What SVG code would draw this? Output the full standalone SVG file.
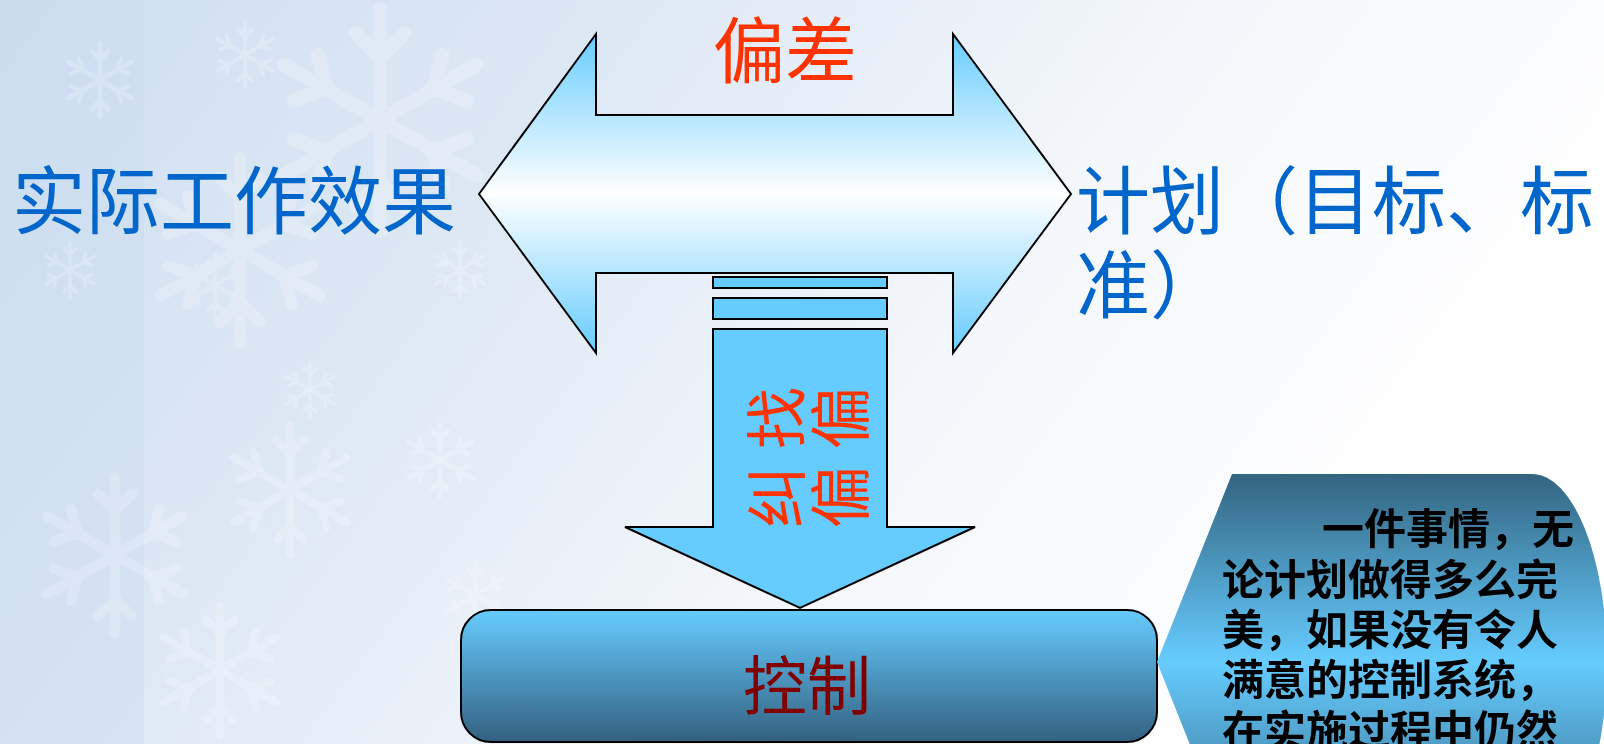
<svg xmlns="http://www.w3.org/2000/svg" xmlns:xlink="http://www.w3.org/1999/xlink" width="1604" height="744" viewBox="0 0 1604 744">
  <style>
    .cjk { font-family: "Noto Sans CJK SC", "Noto Sans", sans-serif; }
    .blue { fill: #0066CC; font-size: 74px; }
    .red { fill: #FF3300; }
    .outline { stroke: #000; stroke-width: 2; stroke-linejoin: miter; }
    .flake { fill: none; stroke: #FFFFFF; stroke-linecap: round; }
  </style>
  <defs>
    <linearGradient id="bg" x1="0" y1="0" x2="1" y2="0.35">
      <stop offset="0" stop-color="#CEDFF1"/>
      <stop offset="0.35" stop-color="#DDE8F5"/>
      <stop offset="0.68" stop-color="#F4F7FB"/>
      <stop offset="1" stop-color="#FFFFFF"/>
    </linearGradient>
    <linearGradient id="dbl" gradientUnits="userSpaceOnUse" x1="0" y1="34" x2="0" y2="353">
      <stop offset="0" stop-color="#66CCFF"/>
      <stop offset="0.5" stop-color="#FFFFFF"/>
      <stop offset="1" stop-color="#66CCFF"/>
    </linearGradient>
    <linearGradient id="box" gradientUnits="userSpaceOnUse" x1="0" y1="610" x2="0" y2="742">
      <stop offset="0" stop-color="#66CCFF"/>
      <stop offset="1" stop-color="#336080"/>
    </linearGradient>
    <linearGradient id="call" gradientUnits="userSpaceOnUse" x1="0" y1="474" x2="0" y2="850">
      <stop offset="0" stop-color="#336480"/>
      <stop offset="0.5" stop-color="#66CCFF"/>
      <stop offset="1" stop-color="#336480"/>
    </linearGradient>
    <symbol id="sf" viewBox="-50 -50 100 100" overflow="visible">
      <g class="flake" stroke-width="6">
        <path d="M0,-46V46M-40,-23L40,23M-40,23L40,-23"/>
        <path d="M-10,-36L0,-26L10,-36M-10,36L0,26L10,36M-36,-8L-22,-13L-26,-27M36,8L22,13L26,27M36,-8L22,-13L26,-27M-36,8L-22,13L-26,27"/>
      </g>
    </symbol>
  </defs>

  <g id="background">
    <rect width="1604" height="744" fill="url(#bg)"/>
    <rect width="144" height="744" fill="#C9DCEF" opacity="0.45"/>
    <g opacity="0.22">
      <use xlink:href="#sf" x="260" y="0" width="240" height="240"/>
      <use xlink:href="#sf" x="140" y="150" width="200" height="200"/>
      <use xlink:href="#sf" x="60" y="40" width="80" height="80"/>
      <use xlink:href="#sf" x="210" y="20" width="70" height="70"/>
      <use xlink:href="#sf" x="220" y="420" width="140" height="140"/>
      <use xlink:href="#sf" x="180" y="250" width="70" height="70"/>
      <use xlink:href="#sf" x="40" y="240" width="60" height="60"/>
      <use xlink:href="#sf" x="30" y="470" width="170" height="170"/>
      <use xlink:href="#sf" x="280" y="360" width="60" height="60"/>
      <use xlink:href="#sf" x="430" y="240" width="60" height="60"/>
      <use xlink:href="#sf" x="400" y="420" width="80" height="80"/>
      <use xlink:href="#sf" x="440" y="560" width="70" height="70"/>
      <use xlink:href="#sf" x="150" y="600" width="140" height="140"/>
    </g>
  </g>

  <g id="connectors">
    <path id="deviation-arrow" class="outline" fill="url(#dbl)" d="M479,194 L596,34 V115 H953 V34 L1071,194 L953,353 V273 H596 V353 Z"/>
    <rect class="outline" fill="#66CCFF" x="713" y="277" width="174" height="11"/>
    <rect class="outline" fill="#66CCFF" x="713" y="298" width="174" height="21"/>
    <path id="down-arrow" class="outline" fill="#66CCFF" d="M713,329 H887 V527 H975 L800,608 L625,527 H713 Z"/>
  </g>

  <g id="label-deviation">
    <text class="cjk red" x="785" y="77" font-size="72" text-anchor="middle">偏差</text>
  </g>

  <g id="label-actual">
    <text class="cjk blue" x="12" y="228">实际工作效果</text>
  </g>

  <g id="label-plan">
    <text class="cjk blue" x="1076" y="228">计划（目标、标</text>
    <text class="cjk blue" x="1076" y="312">准）</text>
  </g>

  <g id="label-find-correct" class="cjk red" font-size="62" text-anchor="middle" dominant-baseline="central">
    <text x="773" y="418" transform="rotate(-90 773 418)">找</text>
    <text x="837" y="418" transform="rotate(-90 837 418)">偏</text>
    <text x="773" y="497" transform="rotate(-90 773 497)">纠</text>
    <text x="837" y="497" transform="rotate(-90 837 497)">偏</text>
  </g>

  <g id="control">
    <rect class="outline" fill="url(#box)" x="461" y="610" width="696" height="132" rx="30" ry="30"/>
    <text class="cjk" x="807" y="709" font-size="64" fill="#800000" text-anchor="middle">控制</text>
  </g>

  <g id="note">
    <path fill="url(#call)" d="M1157,662 L1232,474 H1532 A75,188 0 0 1 1532,850 H1232 Z"/>
    <g class="cjk" font-size="42" font-weight="700" fill="#000">
      <text x="1322" y="544">一件事情，无</text>
      <text x="1222" y="595">论计划做得多么完</text>
      <text x="1222" y="645">美，如果没有令人</text>
      <text x="1222" y="695">满意的控制系统，</text>
      <text x="1222" y="746">在实施过程中仍然</text>
    </g>
  </g>
</svg>
